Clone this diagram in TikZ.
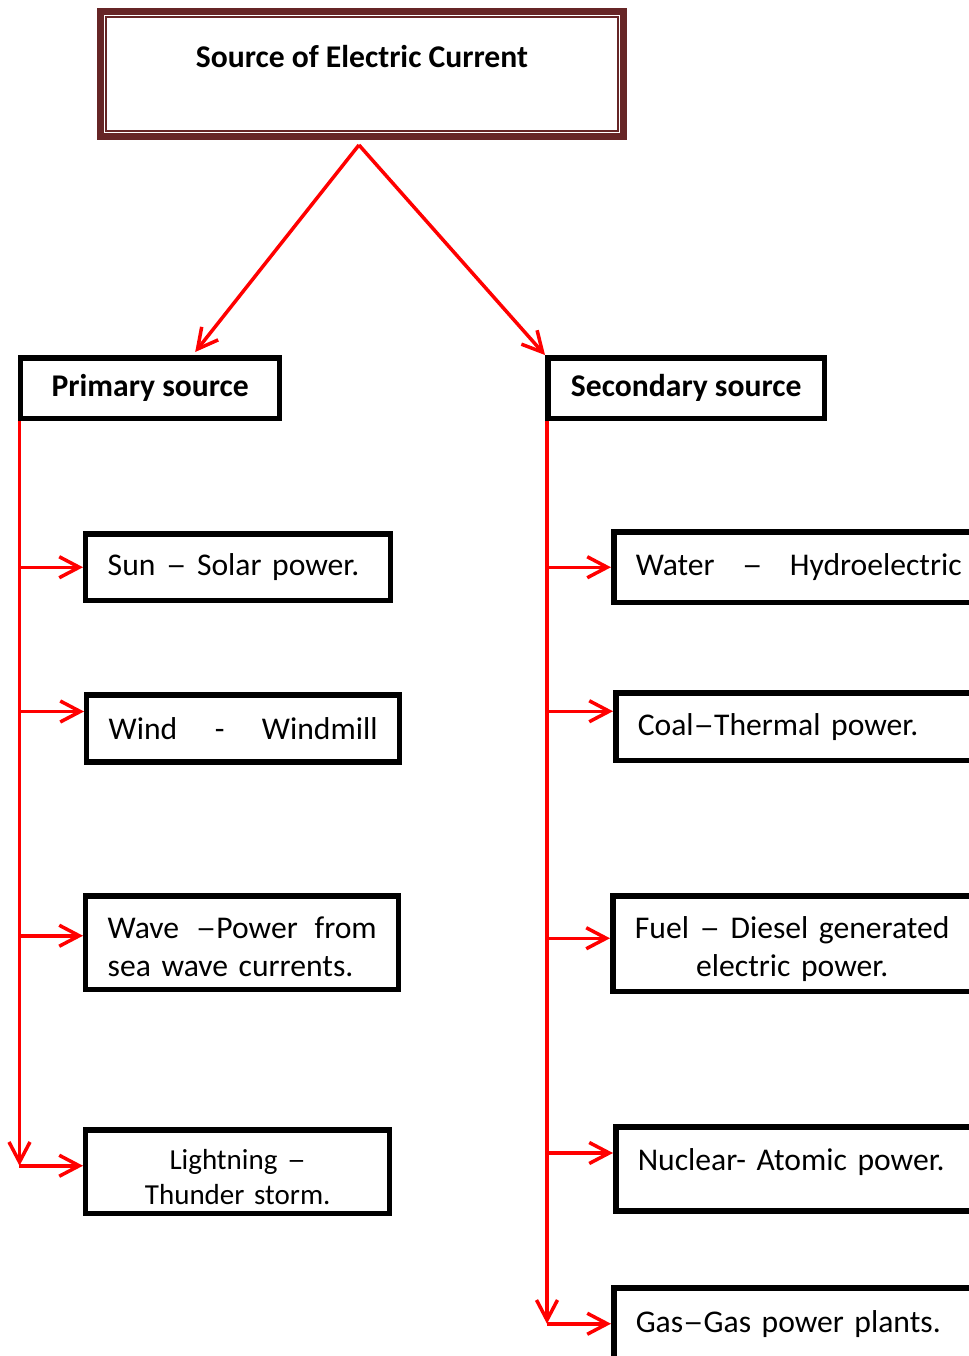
\documentclass[tikz,border=0pt]{standalone}
\usepackage{fontspec}
\usepackage{graphicx}
\setmainfont{Carlito}
\usetikzlibrary{arrows.meta}
\definecolor{framered}{HTML}{662526}
\newcommand\gap{\hskip 0pt plus 1filll\relax}
\newcommand\ndash{\scalebox{1.3}[1]{–}}
\tikzset{
  >={Straight Barb[length=0.4cm,width=0.42cm]},
  every node/.append style={font=\fontsize{18}{22}\selectfont},
  arrow/.style={->, draw=red, line width=0.07cm},
  box/.style={draw, rectangle, line width=0.11cm, anchor=north west, inner sep=0pt, inner xsep=0.44cm},
  titlebox/.style={draw=framered, line width=0.14cm, anchor=north west, inner sep=0pt,
    minimum width=10.46cm, minimum height=2.5cm, text height=0.5cm, text depth=0.74cm,
    font=\fontsize{18}{22}\selectfont\bfseries},
  headbox/.style={box, minimum height=1.22cm, font=\fontsize{18}{22}\selectfont\bfseries},
  leaf/.style={box, align=left},
}
\begin{document}
\begin{tikzpicture}[x=0.02cm, y=-0.02cm]
  \useasboundingbox (0,0) rectangle (969,1356);
  \clip (0,0) rectangle (969,1356);

  \node[titlebox] (title) at (97,8) {Source of Electric Current};
  \draw[framered, line width=0.045cm] ([shift={(9,9)}]title.north west) rectangle ([shift={(-9,-9)}]title.south east);

  \node[headbox, minimum width=5.18cm] (prim) at (18,355) {Primary source};
  \node[headbox, minimum width=5.54cm] (sec) at (545,355) {Secondary source};

  % Primary sources
  \node[leaf, text width=5.22cm, minimum height=1.34cm] (sun) at (83,531) {Sun \ndash{} Solar power.};
  \node[leaf, text width=5.38cm, minimum height=1.35cm] (wind) at (84,692) {Wind\gap-\gap Windmill};
  \node[leaf, text width=5.38cm, minimum height=1.88cm, text depth=0.62cm] (wave) at (83,893) {Wave\gap\ndash Power\gap from\\sea wave currents.};
  \node[leaf, align=center, text width=5.2cm, minimum height=1.68cm, text depth=0.5cm,
        font=\fontsize{16.5}{20}\selectfont] (light) at (83,1127) {Lightning \ndash\\Thunder storm.};

  % Secondary sources
  \node[leaf, text width=6.52cm, minimum height=1.42cm] (water) at (611,529) {Water\gap\ndash\gap Hydroelectric};
  \node[leaf, text width=6.52cm, minimum height=1.36cm] (coal) at (613,690) {Coal\ndash Thermal power.};
  \node[leaf, align=center, text width=6.3cm, minimum height=1.92cm, text depth=0.66cm] (fuel) at (610,893) {Fuel \ndash{} Diesel generated\\electric power.};
  \node[leaf, text width=6.52cm, minimum height=1.69cm, text height=0.5cm, text depth=0.46cm] (nuc) at (613,1124) {Nuclear- Atomic power.};
  \node[leaf, text width=6.52cm, minimum height=1.44cm] (gas) at (611,1285) {Gas\ndash Gas power plants.};

  % Split of the title
  \coordinate (apex) at ([xshift=-0.06cm, yshift=-0.1cm]title.south);
  \draw[arrow] (apex) -- ([xshift=0.9cm, yshift=0.06cm]prim.north);
  \draw[arrow] (apex) -- (sec.north west);

  % Branches from primary source
  \coordinate (ptrunk) at ([xshift=0.03cm]prim.south west);
  \coordinate (sunin) at (sun.west);
  \coordinate (windin) at ([yshift=0.34cm]wind.west);
  \coordinate (wavein) at ([yshift=0.14cm]wave.west);
  \coordinate (lightin) at ([yshift=0.12cm]light.west);
  \coordinate (pend) at (ptrunk |- lightin);
  \draw[arrow] (ptrunk) -- (pend);
  \draw[arrow] (ptrunk |- sunin) -- (sunin);
  \draw[arrow] (ptrunk |- windin) -- (windin);
  \draw[arrow] (ptrunk |- wavein) -- (wavein);
  \draw[arrow] (pend) -- (lightin);

  % Branches from secondary source
  \coordinate (strunk) at ([xshift=0.04cm]sec.south west);
  \coordinate (waterin) at (water.west);
  \coordinate (coalin) at ([yshift=0.31cm]coal.west);
  \coordinate (fuelin) at ([yshift=0.11cm]fuel.west);
  \coordinate (nucin) at ([yshift=0.32cm]nuc.west);
  \coordinate (gasin) at (gas.west);
  \coordinate (send) at (strunk |- gasin);
  \draw[arrow] (strunk) -- (send);
  \draw[arrow] (strunk |- waterin) -- (waterin);
  \draw[arrow] (strunk |- coalin) -- (coalin);
  \draw[arrow] (strunk |- fuelin) -- (fuelin);
  \draw[arrow] (strunk |- nucin) -- (nucin);
  \draw[arrow] (send) -- (gasin);
\end{tikzpicture}
\end{document}
